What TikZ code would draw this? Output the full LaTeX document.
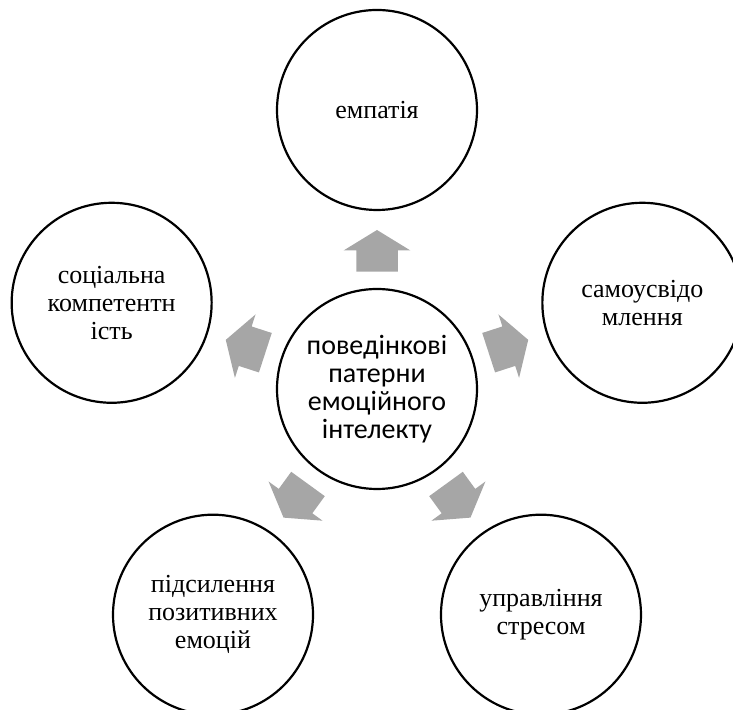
\documentclass[tikz,border=0pt]{standalone}
\usepackage{fontspec}
\usepackage{tikz}
\usetikzlibrary{shapes.arrows, calc}
\newfontfamily\termfont{Liberation Serif}
\newfontfamily\hubfont{Carlito}
\definecolor{colRing} {HTML}{000000}
\definecolor{colArrow}{HTML}{A6A6A6}
\tikzset{
  term/.style={
    draw=colRing, circle, line width=1.1pt,
    minimum size=100pt, inner sep=0pt, align=center,
    font=\termfont\fontsize{13}{14}\selectfont
  },
  hubterm/.style={term, font=\hubfont\fontsize{14}{13.9}\selectfont},
  % grey block arrow pointing away from the hub
  outarr/.style={
    single arrow, fill=colArrow, draw=none, inner sep=0pt,
    text height=20.35pt, text depth=0pt, text width=0pt,
    minimum height=20.8pt,
    single arrow head extend=6.3pt, single arrow tip angle=117,
    single arrow head indent=0pt, anchor=tail
  }
}

\begin{document}
\begin{tikzpicture}
        \useasboundingbox (-188.5pt,-160.5pt) rectangle (178pt,194.5pt);
        \node[hubterm] (hub) at (0,0) {поведінкові\\патерни\\емоційного\\інтелекту};
        \node[term] (empathy)   at (90:139.5pt)   {емпатія};
        \node[term] (selfaware) at (18:139.5pt)   {самоусвідо\\млення};
        \node[term] (stress)    at (-54:139.5pt)  {управління\\стресом};
        \node[term] (positive)  at (-126:139.5pt) {підсилення\\позитивних\\емоцій};
        \node[term] (social)    at (162:139.5pt)  {соціальна\\компетентн\\ість};
        % arrows sit in the gap between the hub and each term
        \node[outarr, rotate=90]   (toempathy)   at ($(hub.center)!58.5pt!(empathy.center)$)   {};
        \node[outarr, rotate=18]   (toselfaware) at ($(hub.center)!58.5pt!(selfaware.center)$) {};
        \node[outarr, rotate=-54]  (tostress)    at ($(hub.center)!58.5pt!(stress.center)$)    {};
        \node[outarr, rotate=-126] (topositive)  at ($(hub.center)!58.5pt!(positive.center)$)  {};
        \node[outarr, rotate=162]  (tosocial)    at ($(hub.center)!58.5pt!(social.center)$)    {};
      \end{tikzpicture}
\end{document}
